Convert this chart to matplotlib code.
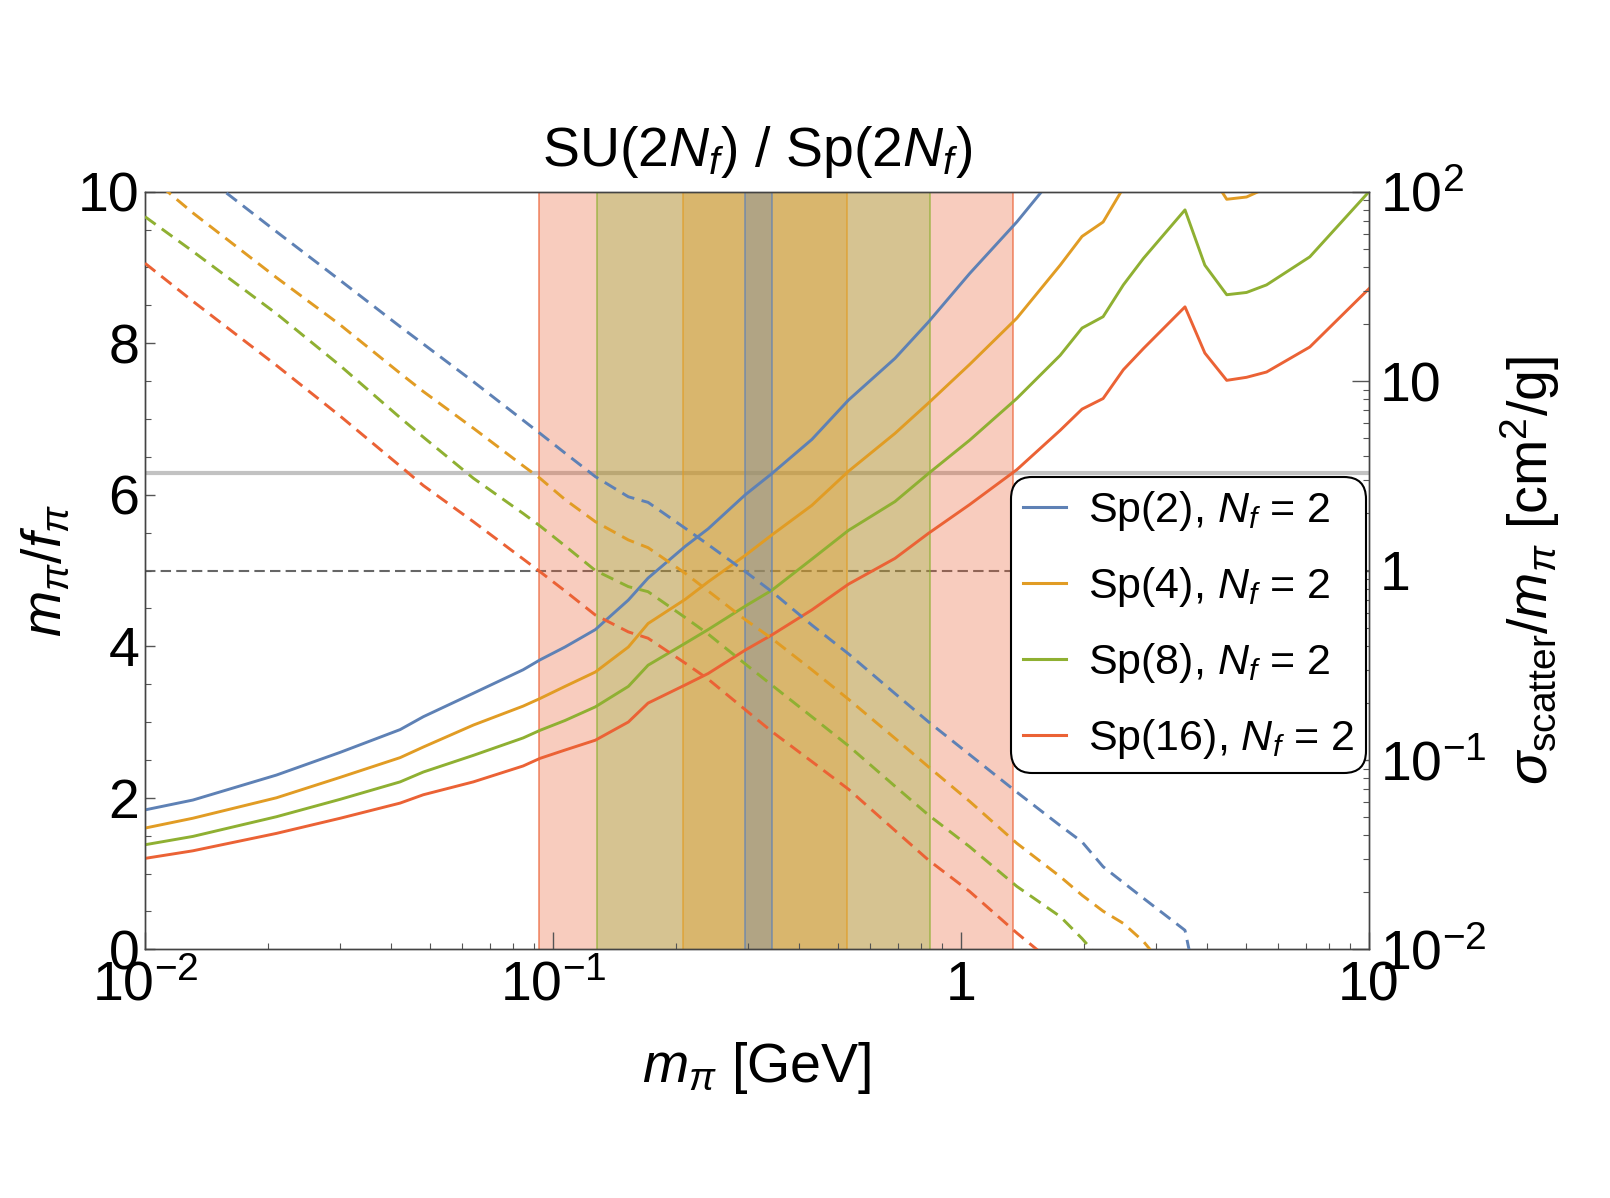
import numpy as np
import matplotlib
matplotlib.use("Agg")
import matplotlib.pyplot as plt
from matplotlib.ticker import FixedLocator, FixedFormatter, LogLocator, MultipleLocator, NullFormatter
from matplotlib.lines import Line2D

plt.rcParams['font.family'] = ['Liberation Sans', 'DejaVu Sans']
plt.rcParams['mathtext.fontset'] = 'custom'
plt.rcParams['mathtext.rm'] = 'Liberation Sans'
plt.rcParams['mathtext.it'] = 'Liberation Sans:italic'
plt.rcParams['mathtext.bf'] = 'Liberation Sans:bold'

# pion mass grid [GeV]
mass = [0.01, 0.0131, 0.021, 0.0301, 0.0422, 0.0481, 0.0638, 0.0845, 0.0929, 0.107,
        0.127, 0.153, 0.171, 0.211, 0.24, 0.296, 0.344, 0.431, 0.53, 0.689,
        0.832, 1.05, 1.37, 1.75, 1.98, 2.23, 2.5, 2.8, 3.54, 3.96,
        4.48, 5.01, 5.61, 7.16, 10.0]

# m_pi / f_pi (solid, left axis)
mf_sp2 = [1.84, 1.97, 2.30, 2.60, 2.90, 3.07, 3.38, 3.69, 3.82, 3.99,
          4.22, 4.61, 4.90, 5.32, 5.55, 6.00, 6.28, 6.73, 7.25, 7.80,
          8.28, 8.92, 9.60, 10.3, 10.6, 10.8, 11.3, 11.7, 12.5, 11.6,
          11.2, 11.3, 11.4, 11.9, 13.0]
mf_sp4 = [1.60, 1.73, 2.00, 2.27, 2.53, 2.67, 2.96, 3.21, 3.31, 3.47,
          3.66, 3.99, 4.30, 4.62, 4.85, 5.20, 5.47, 5.86, 6.31, 6.81,
          7.21, 7.72, 8.33, 9.03, 9.41, 9.60, 10.05, 10.45, 11.2, 10.35,
          9.90, 9.93, 10.05, 10.5, 11.4]
mf_sp8 = [1.38, 1.49, 1.75, 1.98, 2.21, 2.34, 2.56, 2.79, 2.89, 3.02,
          3.20, 3.47, 3.75, 4.04, 4.22, 4.53, 4.74, 5.15, 5.53, 5.91,
          6.28, 6.72, 7.27, 7.84, 8.20, 8.35, 8.77, 9.12, 9.76, 9.03,
          8.64, 8.67, 8.77, 9.14, 10.0]
mf_sp16 = [1.20, 1.30, 1.53, 1.73, 1.93, 2.04, 2.21, 2.42, 2.52, 2.63,
           2.76, 3.00, 3.25, 3.49, 3.64, 3.95, 4.15, 4.48, 4.82, 5.16,
           5.49, 5.87, 6.33, 6.85, 7.13, 7.27, 7.65, 7.93, 8.48, 7.87,
           7.51, 7.55, 7.62, 7.95, 8.72]

# sigma_scatter / m_pi [cm^2/g] (dashed, right axis)
sig_sp2 = [214, 135, 61.5, 34.0, 19.4, 15.7, 9.93, 6.21, 5.30, 4.17,
           3.13, 2.45, 2.29, 1.67, 1.37, 0.987, 0.773, 0.515, 0.363, 0.224,
           0.159, 0.1066, 0.0676, 0.045, 0.0369, 0.0273, 0.0225, 0.0186, 0.0126, 0.004,
           0.003, 0.0025, 0.002, 0.0015, 0.001]
sig_sp4 = [126, 77.3, 35.2, 19.8, 11.0, 8.81, 5.64, 3.57, 3.07, 2.37,
           1.81, 1.45, 1.32, 0.966, 0.78, 0.55, 0.437, 0.299, 0.209, 0.130,
           0.092, 0.0604, 0.0363, 0.0242, 0.0193, 0.0159, 0.0137, 0.011, 0.006, 0.004,
           0.003, 0.0025, 0.002, 0.0015, 0.001]
sig_sp8 = [73.8, 48.4, 22.7, 12.05, 6.41, 5.06, 3.07, 2.0, 1.72, 1.35,
           1.0, 0.822, 0.773, 0.564, 0.462, 0.321, 0.248, 0.169, 0.1186, 0.0726,
           0.0512, 0.0348, 0.0215, 0.0149, 0.0114, 0.0085, 0.007, 0.006, 0.004, 0.003,
           0.0025, 0.002, 0.0015, 0.001, 0.0008]
sig_sp16 = [41.9, 26.4, 12.1, 6.53, 3.56, 2.81, 1.81, 1.15, 0.986, 0.78,
            0.582, 0.474, 0.439, 0.324, 0.267, 0.184, 0.141, 0.098, 0.070, 0.0424,
            0.0296, 0.0202, 0.0122, 0.0079, 0.0065, 0.0055, 0.0045, 0.0035, 0.0025, 0.002,
            0.0015, 0.0012, 0.001, 0.0008, 0.0006]

labels = [r"Sp(2), $N_f$ = 2", r"Sp(4), $N_f$ = 2", r"Sp(8), $N_f$ = 2", r"Sp(16), $N_f$ = 2"]
colors = ["#5E81B5", "#E19C24", "#8FB032", "#EB6235"]

# allowed mass windows (sigma/m < 1 and m/f < 2 pi)
band_lo = [0.296, 0.2085, 0.128, 0.0925]
band_hi = [0.344, 0.525, 0.839, 1.343]

mf_all = [mf_sp2, mf_sp4, mf_sp8, mf_sp16]
sig_all = [sig_sp2, sig_sp4, sig_sp8, sig_sp16]

fig = plt.figure(figsize=(16.1, 11.98), dpi=100)
ax = fig.add_axes([145 / 1610, 1 - 949.3 / 1198, 1224 / 1610, 757.6 / 1198])
ax2 = ax.twinx()

ax.axhline(2 * np.pi, color='#9a9a9a', alpha=0.6, lw=3, zorder=1)
ax.axhline(5, color='#666666', lw=1.5, ls=(0, (5, 2.5)), zorder=1)

# bands, widest first
for i in [3, 2, 1, 0]:
    ax.axvspan(band_lo[i], band_hi[i], facecolor=colors[i], alpha=0.32, lw=0, zorder=1.5)
    for xv in (band_lo[i], band_hi[i]):
        ax.axvline(xv, color=colors[i], lw=1.2, alpha=0.7, zorder=1.6)

for i in range(4):
    ax.plot(mass, mf_all[i], color=colors[i], lw=2.1, zorder=3, solid_joinstyle='round')
    ax2.plot(mass, sig_all[i], color=colors[i], lw=2.1, ls=(0, (4.5, 2.6)), zorder=3)

ax.set_xscale('log')
ax.set_xlim(0.01, 10)
ax.set_ylim(0, 10)
ax2.set_yscale('log')
ax2.set_ylim(1e-2, 1e2)

ax.xaxis.set_major_locator(FixedLocator([0.01, 0.1, 1, 10]))
ax.xaxis.set_major_formatter(FixedFormatter([r"$10^{-2}$", r"$10^{-1}$", "1", "10"]))
ax.xaxis.set_minor_locator(LogLocator(base=10, subs=np.arange(2, 10)))
ax.xaxis.set_minor_formatter(NullFormatter())
ax.yaxis.set_major_locator(MultipleLocator(2))
ax.yaxis.set_minor_locator(MultipleLocator(0.5))
ax2.yaxis.set_major_locator(FixedLocator([0.01, 0.1, 1, 10, 100]))
ax2.yaxis.set_major_formatter(FixedFormatter([r"$10^{-2}$", r"$10^{-1}$", "1", "10", r"$10^{2}$"]))
ax2.yaxis.set_minor_locator(LogLocator(base=10, subs=np.arange(2, 10)))
ax2.yaxis.set_minor_formatter(NullFormatter())

tick_col = '#555555'
ax.tick_params(axis='x', which='major', direction='in', length=12, width=1, color=tick_col,
               top=False, labelsize=40, pad=8)
ax.tick_params(axis='x', which='minor', direction='in', length=4, width=0.8, color=tick_col, top=False)
ax.tick_params(axis='y', which='major', direction='in', length=7, width=1, color=tick_col,
               right=False, labelsize=40, pad=4)
ax.tick_params(axis='y', which='minor', direction='in', length=4.5, width=0.8, color=tick_col, right=False)
ax2.tick_params(axis='y', which='major', direction='in', length=12, width=1, color=tick_col,
                labelsize=40, pad=8)
ax2.tick_params(axis='y', which='minor', direction='in', length=4.5, width=0.8, color=tick_col)

for a in (ax, ax2):
    for s in a.spines.values():
        s.set_color('#444444')
        s.set_linewidth(1.0)

ax.set_xlabel(r"$m_\pi$ [GeV]", fontsize=40, va='center')
ax.xaxis.set_label_coords(0.5, -0.157)
ax.set_ylabel(r"$m_\pi/f_\pi$", fontsize=40, va='center')
ax.yaxis.set_label_coords(-0.08, 0.5)
ax2.set_ylabel(r"$\sigma_{\rm scatter}/m_\pi$ [cm$^2$/g]", fontsize=40, va='center')
ax2.yaxis.set_label_coords(1.1315, 0.5)
ax.text(0.5, 1.052, r"SU(2$N_f$) / Sp(2$N_f$)", transform=ax.transAxes,
        ha='center', va='center', fontsize=40)

handles = [Line2D([], [], color=c, lw=2.2) for c in colors]
leg = ax2.legend(handles, labels, loc='upper right', bbox_to_anchor=(0.9975, 0.6234),
                 fontsize=31, frameon=True, fancybox=True, framealpha=1, edgecolor='black',
                 handlelength=1.0, handletextpad=0.5, labelspacing=0.74, borderpad=0.28,
                 borderaxespad=0)
leg.get_frame().set_linewidth(1.5)
leg.get_frame().set_boxstyle('round,pad=0,rounding_size=0.5')

fig.savefig("out.png", dpi=100, facecolor='white')
